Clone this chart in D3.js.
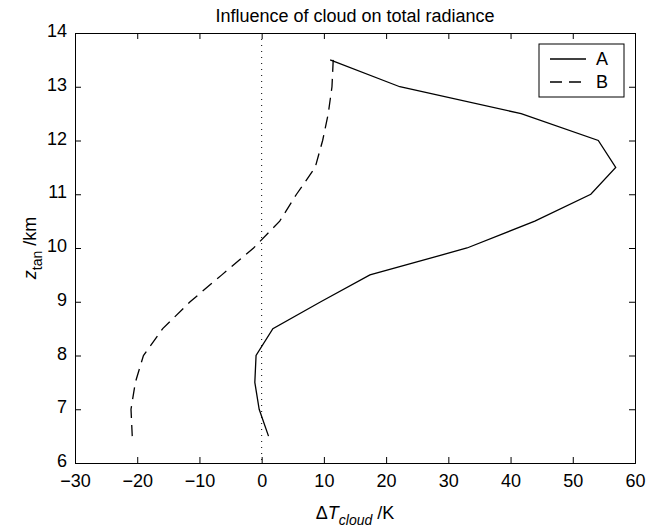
<!DOCTYPE html>
<html>
<head>
<meta charset="utf-8">
<script src="https://cdn.jsdelivr.net/npm/d3@7"></script>
<style>
  body { margin: 0; background: #fff; }
  text { font-family: "Liberation Sans", Arial, Helvetica, sans-serif; fill: #000; }
</style>
</head>
<body>
<svg id="chart" width="648" height="531"></svg>
<script>
// Chart data: tangent altitude (km) and cloud effect (K) for each case
const altitudes = [13.5, 13, 12.5, 12, 11.5, 11, 10.5, 10, 9.5, 9, 8.5, 8, 7.5, 7, 6.5];
const seriesA = [11.0, 22.2, 41.7, 54.1, 56.9, 52.9, 43.9, 33.0, 17.4, 9.5, 1.8, -0.9, -1.1, -0.4, 1.1];
const seriesB = [11.5, 11.3, 10.7, 9.8, 8.6, 5.6, 2.9, -1.3, -6.4, -11.5, -15.9, -19.0, -20.3, -21.0, -20.8];
const xTicks = [-30, -20, -10, 0, 10, 20, 30, 40, 50, 60];
const yTicks = [6, 7, 8, 9, 10, 11, 12, 13, 14];
const legendNames = ["A", "B"];

const svg = d3.select("#chart");
const margin = { left: 75, right: 13, top: 33, bottom: 68 };
const width = 648 - margin.left - margin.right;
const height = 531 - margin.top - margin.bottom;

const x = d3.scaleLinear().domain([-30, 60]).range([0, width]);
const y = d3.scaleLinear().domain([6, 14]).range([height, 0]);

const g = svg.append("g").attr("transform", `translate(${margin.left},${margin.top})`);

// Axes with inward ticks, mirrored on top/right like matlab
const tickLen = 6;
const fmt = d => d < 0 ? "\u2212" + Math.abs(d) : d;

const xAxis = g.append("g")
    .attr("transform", `translate(0,${height})`)
    .call(d3.axisBottom(x).tickValues(xTicks).tickSize(-tickLen).tickPadding(11).tickFormat(fmt));
const yAxis = g.append("g")
    .call(d3.axisLeft(y).tickValues(yTicks).tickSize(-tickLen).tickPadding(8).tickFormat(fmt));
g.append("g")
    .call(d3.axisTop(x).tickValues(xTicks).tickSize(-tickLen).tickFormat(""));
g.append("g")
    .attr("transform", `translate(${width},0)`)
    .call(d3.axisRight(y).tickValues(yTicks).tickSize(-tickLen).tickFormat(""));

g.selectAll(".domain").attr("stroke", "#000").attr("stroke-width", 1);
g.selectAll(".tick line").attr("stroke", "#000");
g.selectAll(".tick text").style("font-size", "18px").attr("fill", "#000");
xAxis.selectAll(".tick text").attr("dy", "0.71em");
yAxis.selectAll(".tick text").attr("dy", "0.2em");

// Zero reference (dotted)
g.append("line")
    .attr("x1", x(0)).attr("x2", x(0))
    .attr("y1", 0).attr("y2", height)
    .attr("stroke", "#000")
    .attr("stroke-width", 1)
    .attr("stroke-dasharray", "1,5");

const lineA = d3.line().x(d => x(d[0])).y(d => y(d[1]));
g.append("path")
    .datum(seriesA.map((v, i) => [v, altitudes[i]]))
    .attr("fill", "none").attr("stroke", "#000").attr("stroke-width", 1.3)
    .attr("d", lineA);
g.append("path")
    .datum(seriesB.map((v, i) => [v, altitudes[i]]))
    .attr("fill", "none").attr("stroke", "#000").attr("stroke-width", 1.3)
    .attr("stroke-dasharray", "12,7")
    .attr("d", lineA);

// Legend
const legend = g.append("g").attr("transform", `translate(${464},${11})`);
legend.append("rect")
    .attr("width", 85).attr("height", 53)
    .attr("fill", "#fff").attr("stroke", "#000").attr("stroke-width", 1);
legendNames.forEach((name, i) => {
    const yy = 15 + i * 23;
    legend.append("line")
        .attr("x1", 11).attr("x2", 47).attr("y1", yy).attr("y2", yy)
        .attr("stroke", "#000").attr("stroke-width", 1.3)
        .attr("stroke-dasharray", i === 1 ? "12,7" : null);
    legend.append("text")
        .attr("x", 57).attr("y", yy).attr("dy", "0.35em")
        .style("font-size", "18px").text(name);
});

// Title
svg.append("text")
    .attr("x", margin.left + width / 2).attr("y", 22)
    .attr("text-anchor", "middle")
    .style("font-size", "18px")
    .text("Influence of cloud on total radiance");

// X label: ΔT_cloud /K
const xl = svg.append("text")
    .attr("x", margin.left + width / 2).attr("y", 519)
    .attr("text-anchor", "middle")
    .style("font-size", "18px");
xl.append("tspan").text("\u0394");
xl.append("tspan").style("font-style", "italic").text("T");
xl.append("tspan").style("font-style", "italic").style("font-size", "14px").attr("dy", 6).text("cloud");
xl.append("tspan").attr("dy", -6).text(" /K");

// Y label: z_tan /km
const yl = svg.append("text")
    .attr("transform", `translate(36,${margin.top + height / 2}) rotate(-90)`)
    .attr("text-anchor", "middle")
    .style("font-size", "18px");
yl.append("tspan").style("font-style", "italic").text("z");
yl.append("tspan").style("font-size", "14px").attr("dy", 6).text("tan");
yl.append("tspan").attr("dy", -6).text(" /km");
</script>
</body>
</html>
